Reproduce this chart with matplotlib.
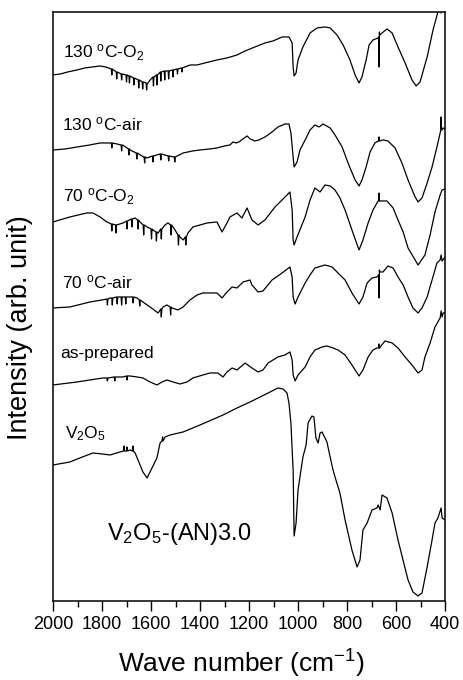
import matplotlib
matplotlib.use('Agg')
import matplotlib.pyplot as plt
from matplotlib.ticker import MultipleLocator

plt.rcParams['font.family'] = ['Liberation Sans', 'DejaVu Sans']
plt.rcParams['mathtext.fontset'] = 'custom'
plt.rcParams['mathtext.rm'] = 'Liberation Sans'
plt.rcParams['mathtext.it'] = 'Liberation Sans:italic'

# FTIR spectra: (wave number, intensity) pairs,
# intensities in arb. units with the vertical offsets already included
s_130_o2 = [(2000, 526), (1970, 527), (1940, 529), (1902, 531), (1870, 533), (1840, 534), (1808, 535), (1785, 534),
            (1762, 532), (1760, 526), (1758, 532), (1742, 529), (1740, 522), (1738, 529), (1722, 527), (1720, 521),
            (1718, 527), (1702, 526), (1700, 519), (1698, 526), (1690, 525), (1688, 518), (1686, 525), (1672, 523),
            (1670, 516), (1668, 523), (1652, 521), (1650, 513), (1648, 521), (1636, 519), (1634, 512), (1632, 519),
            (1620, 518), (1618, 511), (1616, 517), (1600, 522), (1592, 524), (1590, 515), (1588, 524), (1578, 526),
            (1576, 516), (1574, 526), (1562, 529), (1560, 520), (1558, 529), (1546, 530), (1544, 521), (1542, 530),
            (1530, 530), (1528, 522), (1526, 530), (1512, 531), (1510, 524), (1508, 531), (1494, 532), (1492, 527),
            (1490, 532), (1476, 533), (1474, 529), (1472, 533), (1440, 536), (1412, 536), (1380, 538), (1331, 541),
            (1290, 543), (1249, 546), (1216, 550), (1176, 554), (1135, 558), (1102, 560), (1065, 564), (1037, 564),
            (1024, 558), (1020, 534), (1016, 525), (1008, 528), (1000, 541), (980, 554), (951, 568), (922, 573),
            (890, 574), (869, 573), (841, 566), (816, 556), (788, 541), (767, 526), (751, 518), (739, 524),
            (722, 541), (710, 556), (694, 561), (673, 563), (671, 564), (669, 534), (668, 569), (666, 566),
            (657, 568), (637, 572), (616, 568), (592, 554), (563, 538), (535, 521), (518, 515), (502, 519),
            (473, 544), (449, 571), (429, 589), (420, 598), (416, 588), (414, 600), (400, 610)]

s_130_air = [(2000, 451), (1950, 452), (1902, 454), (1850, 456), (1808, 458), (1770, 458), (1762, 458), (1760, 453),
             (1758, 458), (1739, 457), (1722, 456), (1720, 450), (1718, 456), (1710, 455), (1692, 452), (1690, 446),
             (1688, 452), (1686, 451), (1660, 448), (1658, 442), (1656, 448), (1650, 447), (1630, 444), (1628, 444),
             (1626, 438), (1624, 444), (1616, 443), (1594, 445), (1592, 439), (1590, 445), (1563, 447), (1562, 447),
             (1560, 441), (1558, 447), (1530, 445), (1528, 440), (1526, 445), (1505, 444), (1503, 439), (1501, 444),
             (1469, 448), (1430, 450), (1400, 451), (1360, 452), (1331, 453), (1300, 455), (1278, 456), (1265, 459),
             (1253, 458), (1241, 459), (1225, 462), (1208, 465), (1195, 462), (1176, 460), (1160, 461), (1135, 464),
             (1106, 469), (1082, 474), (1053, 477), (1037, 477), (1029, 468), (1020, 444), (1016, 434), (1004, 439),
             (992, 451), (971, 461), (951, 471), (931, 476), (914, 474), (898, 477), (869, 473), (849, 466),
             (820, 454), (796, 438), (767, 421), (751, 415), (739, 421), (722, 434), (706, 449), (686, 458),
             (673, 460), (670, 460), (669, 464), (668, 460), (653, 461), (633, 460), (604, 453), (576, 438),
             (551, 421), (522, 404), (510, 399), (494, 403), (473, 418), (453, 434), (433, 454), (420, 468),
             (417, 471), (416, 484), (415, 472), (412, 471), (408, 473), (400, 472)]

s_70_o2 = [(2000, 379), (1931, 384), (1880, 387), (1861, 388), (1837, 388), (1808, 384), (1780, 379), (1762, 377),
           (1760, 370), (1758, 377), (1745, 376), (1743, 368), (1741, 376), (1714, 378), (1700, 380), (1698, 372),
           (1696, 380), (1680, 382), (1678, 374), (1676, 382), (1665, 383), (1655, 381), (1653, 372), (1651, 381),
           (1645, 379), (1632, 376), (1630, 366), (1628, 376), (1616, 374), (1600, 372), (1598, 362), (1596, 372),
           (1592, 371), (1580, 369), (1578, 360), (1576, 369), (1571, 368), (1560, 372), (1558, 362), (1556, 372),
           (1543, 376), (1531, 378), (1520, 376), (1518, 366), (1516, 376), (1502, 371), (1490, 366), (1488, 356),
           (1486, 366), (1482, 364), (1469, 361), (1460, 364), (1458, 356), (1456, 364), (1449, 368), (1429, 374),
           (1371, 378), (1331, 379), (1310, 369), (1290, 378), (1278, 384), (1249, 388), (1229, 383), (1208, 393),
           (1188, 381), (1163, 376), (1135, 381), (1094, 394), (1053, 404), (1033, 409), (1024, 391), (1020, 361),
           (1016, 356), (1004, 364), (971, 384), (951, 401), (931, 413), (910, 409), (890, 416), (869, 415),
           (849, 411), (829, 403), (808, 391), (780, 371), (751, 351), (735, 361), (714, 378), (694, 391),
           (673, 400), (670, 400), (669, 408), (668, 400), (637, 400), (612, 393), (592, 381), (571, 369),
           (551, 353), (510, 336), (482, 346), (461, 366), (441, 389), (420, 406), (412, 411), (400, 412)]

s_70_air = [(2000, 293), (1931, 294), (1849, 299), (1800, 301), (1780, 302), (1778, 296), (1776, 302), (1767, 303),
            (1760, 303), (1758, 296), (1756, 303), (1740, 304), (1738, 297), (1736, 304), (1722, 304), (1720, 296),
            (1718, 304), (1705, 304), (1703, 297), (1701, 304), (1686, 304), (1675, 304), (1673, 298), (1671, 304),
            (1657, 303), (1648, 301), (1646, 295), (1644, 301), (1633, 299), (1604, 294), (1571, 288), (1560, 292),
            (1558, 284), (1556, 292), (1551, 294), (1535, 296), (1522, 294), (1520, 286), (1518, 294), (1514, 293),
            (1490, 291), (1469, 294), (1441, 301), (1412, 306), (1388, 308), (1331, 308), (1310, 303), (1290, 309),
            (1269, 314), (1249, 313), (1224, 319), (1196, 321), (1188, 316), (1163, 309), (1143, 310), (1106, 321),
            (1065, 328), (1033, 334), (1024, 324), (1020, 304), (1012, 297), (1000, 304), (971, 318), (951, 326),
            (931, 333), (890, 336), (861, 334), (837, 328), (808, 321), (780, 308), (751, 297), (735, 304),
            (718, 318), (698, 323), (678, 324), (671, 326), (669, 303), (668, 331), (665, 329), (653, 329),
            (633, 335), (612, 333), (592, 324), (571, 316), (551, 304), (531, 293), (510, 288), (494, 293),
            (473, 304), (453, 321), (433, 338), (420, 341), (416, 346), (412, 340), (400, 344)]

s_asprep = [(2000, 216), (1902, 219), (1796, 223), (1780, 223), (1778, 220), (1776, 223), (1750, 224), (1748, 220),
            (1746, 224), (1714, 224), (1700, 225), (1698, 221), (1696, 225), (1686, 225), (1657, 224), (1633, 223),
            (1604, 219), (1576, 216), (1555, 219), (1535, 221), (1510, 219), (1482, 217), (1453, 219), (1429, 223),
            (1388, 226), (1359, 228), (1327, 228), (1306, 224), (1290, 229), (1269, 233), (1249, 231), (1216, 238),
            (1188, 233), (1163, 229), (1143, 231), (1122, 238), (1082, 244), (1053, 246), (1033, 249), (1024, 241),
            (1020, 226), (1012, 220), (1000, 226), (971, 234), (951, 244), (931, 251), (902, 254), (882, 255),
            (857, 253), (837, 251), (808, 246), (780, 236), (751, 225), (735, 231), (714, 244), (694, 251),
            (678, 253), (670, 253), (669, 257), (668, 253), (645, 260), (616, 258), (592, 253), (563, 244),
            (535, 236), (510, 228), (494, 231), (482, 244), (461, 258), (441, 274), (420, 283), (416, 290),
            (412, 284), (408, 288), (400, 288)]

s_v2o5 = [(2000, 136), (1931, 139), (1880, 144), (1837, 148), (1800, 147), (1767, 146), (1727, 149), (1712, 150),
          (1710, 155), (1708, 150), (1700, 150), (1698, 154), (1696, 150), (1686, 151), (1676, 150), (1674, 155),
          (1672, 150), (1665, 148), (1653, 141), (1633, 129), (1616, 123), (1604, 129), (1576, 143), (1563, 158),
          (1555, 160), (1553, 164), (1551, 160), (1543, 164), (1522, 166), (1469, 169), (1400, 176), (1306, 186),
          (1249, 193), (1196, 199), (1163, 203), (1122, 208), (1082, 213), (1061, 212), (1045, 208), (1037, 198),
          (1029, 178), (1024, 151), (1020, 131), (1016, 65), (1008, 78), (1000, 111), (980, 144), (967, 156),
          (959, 178), (943, 185), (935, 184), (927, 163), (918, 158), (910, 168), (902, 169), (882, 159),
          (869, 144), (857, 131), (849, 124), (829, 108), (808, 81), (780, 51), (759, 34), (747, 41),
          (735, 71), (718, 78), (698, 91), (678, 93), (673, 96), (665, 91), (657, 106), (637, 103),
          (616, 88), (592, 61), (551, 21), (531, 9), (510, 5), (494, 8), (473, 34), (453, 61),
          (441, 78), (429, 83), (416, 93), (412, 83), (400, 81)]

spectra = [s_130_o2, s_130_air, s_70_o2, s_70_air, s_asprep, s_v2o5]

fig = plt.figure(figsize=(4.63, 6.8), dpi=100)
ax = fig.add_axes([0.1145, 0.1162, 0.8467, 0.8662])

for s in spectra:
    wn, inten = zip(*s)
    ax.plot(wn, inten, color='black', linewidth=0.9)

# curve labels
ax.text(1959, 543, r'130 $^{\rm o}$C-O$_2$', fontsize=12.5)
ax.text(1963, 471, r'130 $^{\rm o}$C-air', fontsize=12.5)
ax.text(1959, 399, r'70 $^{\rm o}$C-O$_2$', fontsize=12.5)
ax.text(1963, 313, r'70 $^{\rm o}$C-air', fontsize=12.5)
ax.text(1971, 243, 'as-prepared', fontsize=12.5)
ax.text(1951, 163, r'V$_2$O$_5$', fontsize=12.5)
ax.text(1780, 61, r'V$_2$O$_5$-(AN)3.0', fontsize=17)

ax.set_xlim(2000, 400)
ax.set_ylim(0, 589)
ax.xaxis.set_major_locator(MultipleLocator(200))
ax.xaxis.set_minor_locator(MultipleLocator(100))
ax.tick_params(axis='x', which='major', direction='out', length=7, width=1, labelsize=13)
ax.tick_params(axis='x', which='minor', direction='out', length=4, width=1)
ax.set_yticks([])
for sp in ax.spines.values():
    sp.set_linewidth(1.1)

ax.set_xlabel(r'Wave number (cm$^{-1}$)', fontsize=19)
ax.set_ylabel('Intensity (arb. unit)', fontsize=19.5)
ax.xaxis.set_label_coords(0.48, -0.0798)
ax.yaxis.set_label_coords(-0.051, 0.4635)

fig.savefig('out.png', dpi=100)
